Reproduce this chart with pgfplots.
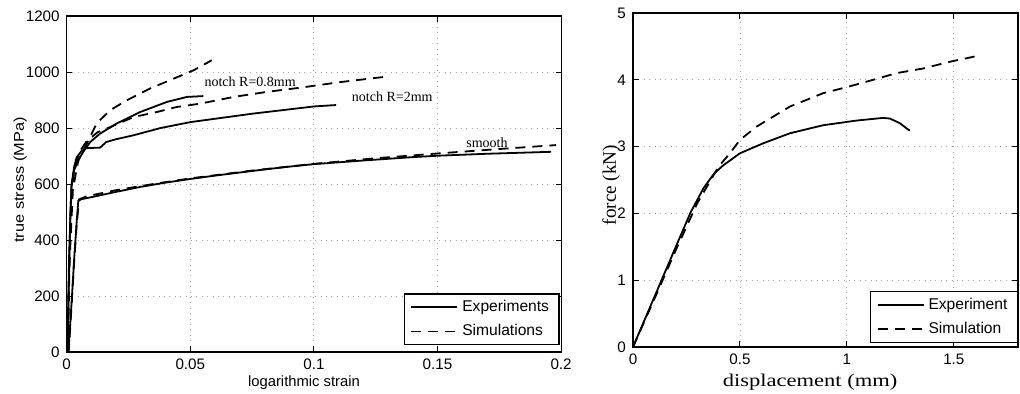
\documentclass[border=0pt]{standalone}
\usepackage{graphicx}
\usepackage{pgfplots}
\pgfplotsset{compat=1.18}
\usepackage{fontspec}
\setmainfont{Liberation Serif}
\setsansfont{Liberation Sans}

\pgfplotsset{
  mystyle/.style={
    scale only axis,
    axis line style={line width=0.6pt},
    tick style={black, line width=0.5pt},
    major tick length=2.8pt,
    tick align=inside,
    grid=major,
    grid style={gray!70, line width=0.45pt, dash pattern=on 0.5pt off 2.2pt},
    tick label style={font=\sffamily\fontsize{7.6}{8}\selectfont},
    legend cell align=left,
    legend image code/.code={\draw[#1] (0pt,0pt) -- (23pt,0pt);},
    legend style={font=\sffamily\fontsize{7.8}{9}\selectfont, draw=black, line width=0.6pt, inner xsep=3pt, inner ysep=1pt, row sep=1pt},
  },
  expc/.style={black, line width=0.9pt},
  simc/.style={black, line width=0.9pt, dash pattern=on 5pt off 3.5pt},
}

\begin{document}
\begin{tikzpicture}
\useasboundingbox (0,0) rectangle (510pt,196.5pt);
\begin{axis}[mystyle, at={(33.35pt,20.5pt)}, anchor=south west,
  width=247.2pt, height=168pt,
  xmin=0, xmax=0.2, ymin=0, ymax=1200,
  xtick={0,0.05,0.1,0.15,0.2}, xticklabels={0,0.05,0.1,0.15,0.2},
  ytick={0,200,400,600,800,1000,1200}, yticklabels={0,200,400,600,800,1000,1200},
  xlabel={logarithmic strain}, ylabel={\scalebox{1.15}[1]{true stress (MPa)}},
  xlabel style={font=\sffamily\fontsize{7.4}{8}\selectfont, at={(axis description cs:0.48,-0.092)}, anchor=center},
  ylabel style={font=\sffamily\fontsize{7.1}{8}\selectfont, at={(axis description cs:-0.094,0.512)}, anchor=center},
  legend style={at={(0.997,0.02)}, anchor=south east}]
% smooth experiment
\addplot[expc] coordinates {(0,0)(0.0007,0)(0.002,180)(0.003,330)(0.004,460)(0.0047,540)(0.006,546)(0.01,553)(0.02,572)(0.03,590)(0.04,605)(0.05,618)(0.06,630)(0.07,641)(0.08,652)(0.09,662)(0.1,671)(0.12,684)(0.14,696)(0.15,701)(0.17,708)(0.196,715)};
\addlegendentry{Experiments\hspace{5pt}}
% smooth simulation
\addplot[simc] coordinates {(0,0)(0.0008,0)(0.002,170)(0.003,320)(0.004,450)(0.005,545)(0.008,556)(0.02,578)(0.035,600)(0.05,620)(0.075,648)(0.1,672)(0.125,692)(0.15,709)(0.175,725)(0.198,739)};
\addlegendentry{Simulations\hspace{5pt}}
% notch R=2mm experiment
\addplot[expc, forget plot] coordinates {(0,0)(0.0005,50)(0.001,300)(0.0015,500)(0.002,600)(0.003,660)(0.004,695)(0.006,718)(0.008,728)(0.0135,730)(0.016,750)(0.02,760)(0.027,774)(0.038,800)(0.05,821)(0.075,851)(0.1,877)(0.109,882)};
% notch R=2mm simulation
\addplot[simc, forget plot] coordinates {(0,0)(0.0005,40)(0.001,290)(0.002,560)(0.003,650)(0.005,712)(0.008,752)(0.0125,785)(0.0175,803)(0.027,839)(0.0364,857)(0.0445,875)(0.054,887)(0.0675,911)(0.081,929)(0.0945,944)(0.1107,964)(0.128,982)};
% notch R=0.8mm experiment
\addplot[expc, forget plot] coordinates {(0,0)(0.0003,30)(0.001,350)(0.0019,589)(0.003,650)(0.0054,696)(0.0067,715)(0.0095,750)(0.0135,780)(0.0202,816)(0.0297,857)(0.0405,893)(0.0486,911)(0.0553,914)};
% notch R=0.8mm simulation
\addplot[simc, forget plot] coordinates {(0,0)(0.0004,30)(0.0012,330)(0.0025,580)(0.0047,685)(0.0088,756)(0.0121,816)(0.0175,863)(0.0243,899)(0.0337,941)(0.0432,976)(0.0513,1006)(0.0587,1042)};
\node[font=\rmfamily\fontsize{7}{8}\selectfont] at (axis cs:0.0742,964) {notch R=0.8mm};
\node[font=\rmfamily\fontsize{7}{8}\selectfont] at (axis cs:0.1317,911) {notch R=2mm};
\node[font=\rmfamily\fontsize{7}{8}\selectfont] at (axis cs:0.170,746) {smooth};
\end{axis}

\begin{axis}[mystyle, at={(316.5pt,23pt)}, anchor=south west,
  width=192.5pt, height=167pt,
  xmin=0, xmax=1.8, ymin=0, ymax=5,
  xtick={0,0.5,1,1.5}, xticklabels={0,0.5,1,1.5},
  ytick={0,1,2,3,4,5}, yticklabels={0,1,2,3,4,5},
  xlabel={\scalebox{1.25}[1]{displacement (mm)}}, ylabel={force (kN)},
  xlabel style={font=\rmfamily\fontsize{9}{10}\selectfont, at={(axis description cs:0.46,-0.105)}, anchor=center},
  ylabel style={font=\rmfamily\fontsize{9.6}{10}\selectfont, at={(axis description cs:-0.057,0.485)}, anchor=center},
  legend style={at={(1,0.012)}, anchor=south east}]
\addplot[expc] coordinates {(0,0)(0.1,0.75)(0.2,1.5)(0.27,2.02)(0.33,2.38)(0.38,2.6)(0.422,2.72)(0.5,2.9)(0.609,3.05)(0.734,3.2)(0.889,3.32)(1.045,3.39)(1.17,3.43)(1.201,3.42)(1.248,3.35)(1.28,3.27)(1.294,3.24)};
\addlegendentry{Experiment\hspace{2pt}}
\addplot[simc] coordinates {(0,0)(0.1,0.72)(0.2,1.45)(0.3,2.15)(0.4,2.7)(0.453,2.9)(0.5,3.1)(0.578,3.3)(0.734,3.6)(0.889,3.8)(0.999,3.89)(1.123,4.0)(1.232,4.1)(1.357,4.17)(1.481,4.27)(1.614,4.36)};
\addlegendentry{Simulation\hspace{2pt}}
\end{axis}
\end{tikzpicture}
\end{document}
